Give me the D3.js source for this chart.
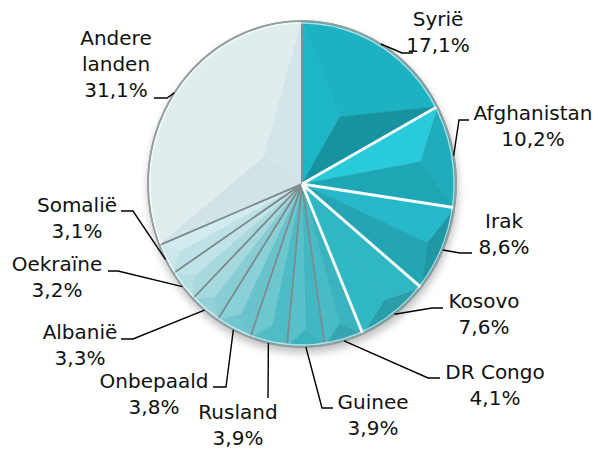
<!DOCTYPE html>
<html><head><meta charset="utf-8">
<script src="https://cdn.jsdelivr.net/npm/d3@7"></script>
<style>body{margin:0;background:#fff}</style>
</head><body><svg id="c" width="600" height="450"></svg>
<script>
// ---- data ----
const categories = ["Syrië","Afghanistan","Irak","Kosovo","DR Congo","Guinee","Rusland","Onbepaald","Albanië","Oekraïne","Somalië","Andere landen"];
const values = [17.1,10.2,8.6,7.6,4.1,3.9,3.9,3.8,3.3,3.2,3.1,31.1];

// ---- styles / layout ----
const colors = ["#1ba9b8","#22b6c5","#24aab9","#2fb2bf","#3db7c3","#4abbc6","#5cc1ca","#78c9d1","#97d3d9","#b3dee3","#c8e6ea","#d8e8eb"];
const whiteSep = [true,true,true,true,false,false,false,false,false,false,false,false];
const labelLayout = [
  {x:438, y:26,  pts:[[402,53],[413,53]]},
  {x:533, y:120, pts:[[459,120],[469,120]]},
  {x:504, y:228, pts:[[460,253],[472,253]]},
  {x:484, y:308, pts:[[432,308],[443,308]]},
  {x:495, y:379, pts:[[428,378],[440,378]]},
  {x:373, y:409, pts:[[322,408],[333,408]]},
  {x:238, y:419, pts:[[268,398]]},
  {x:154, y:388, pts:[[226,387],[213,387]]},
  {x:80,  y:339, pts:[[133,339],[121,339]]},
  {x:57,  y:271, pts:[[118,271],[108,271]]},
  {x:77,  y:212, pts:[[133,211],[121,211]]},
  {x:116, y:45,  pts:[[167,98],[154,98]], wrap:true}
];
const cx = 302, cy = 184, R = 163, RX = 154;
const sx = RX / R;
const lineH = 26;

const svg = d3.select("#c");
const defs = svg.append("defs");
const f = defs.append("filter").attr("id","sh").attr("x","-20%").attr("y","-20%").attr("width","140%").attr("height","140%");
f.append("feGaussianBlur").attr("stdDeviation",4);

const pie = d3.pie().sort(null).value(d => d);
const arcs = pie(values);
const arc = d3.arc().innerRadius(0).outerRadius(R);

// shadow
svg.append("ellipse").attr("cx",cx+1).attr("cy",cy+5).attr("rx",RX+1).attr("ry",R+1)
  .attr("fill","#000").attr("opacity",0.25).attr("filter","url(#sh)");

const g = svg.append("g").attr("transform",`translate(${cx},${cy}) scale(${sx},1)`);

const pt = (r,a) => [r*Math.sin(a), -r*Math.cos(a)];
const L = [-0.6,-0.8];
function shade(base, ang){
  const n = pt(1, ang);
  const dot = n[0]*L[0] + n[1]*L[1];
  const c = d3.hsl(base);
  const k = 0.055 * (1 - Math.max(0, c.l - 0.55) * 1.6);
  c.l = Math.max(0, Math.min(0.95, c.l + k*dot));
  return c.formatHex();
}

arcs.forEach((d,i) => {
  const a0 = d.startAngle, a1 = d.endAngle;
  const th = (a1-a0)/2, mid = (a0+a1)/2;
  const dd = Math.min(40/Math.sin(Math.min(th, Math.PI/2)), R-18);
  const A = pt(R,a0), B = pt(R,a1), P = pt(dd,mid);
  const sg = g.append("g");
  const large = (a1-a0) > Math.PI ? 1 : 0;
  const c1 = shade(colors[i], mid), c2 = shade(colors[i], a0 - Math.PI/2), c3 = shade(colors[i], a1 + Math.PI/2);
  sg.append("path")
    .attr("d",`M${A[0]},${A[1]}A${R},${R} 0 ${large} 1 ${B[0]},${B[1]}L${P[0]},${P[1]}Z`)
    .attr("fill", c1).attr("stroke", c1).attr("stroke-width",0.5);
  sg.append("path")
    .attr("d",`M0,0L${A[0]},${A[1]}L${P[0]},${P[1]}Z`)
    .attr("fill", c2).attr("stroke", c2).attr("stroke-width",0.5);
  sg.append("path")
    .attr("d",`M0,0L${B[0]},${B[1]}L${P[0]},${P[1]}Z`)
    .attr("fill", c3).attr("stroke", c3).attr("stroke-width",0.5);
});

// slice outlines
g.selectAll("path.sl").data(arcs).join("path").attr("class","sl")
  .attr("d",arc).attr("fill","none")
  .attr("stroke","#7f8c8f").attr("stroke-width",1.6).attr("stroke-linejoin","round");
// white separators on the big teal slices
arcs.forEach((d,i) => {
  if (whiteSep[i]) {
    const E = pt(R-1, d.endAngle);
    g.append("line").attr("x1",0).attr("y1",0).attr("x2",E[0]).attr("y2",E[1])
      .attr("stroke","#f4fbfc").attr("stroke-width",3);
  }
});
// rim
g.append("circle").attr("r",R-2).attr("fill","none").attr("stroke","#ffffff").attr("stroke-opacity",0.6).attr("stroke-width",1.5);
g.append("circle").attr("r",R).attr("fill","none").attr("stroke","#969fa1").attr("stroke-width",1.6);

// labels
const fmt = v => d3.format(".1f")(v).replace(".",",") + "%";
const lab = svg.append("g").attr("font-family","'DejaVu Sans', Verdana, sans-serif")
  .attr("font-size",20).attr("fill","#111").attr("text-anchor","middle");
arcs.forEach((d,i) => {
  const lay = labelLayout[i];
  const mid = (d.startAngle+d.endAngle)/2;
  const e = pt(R, mid);
  const start = [cx + e[0]*sx, cy + e[1]];
  svg.append("path").attr("d", d3.line()([start, ...lay.pts]))
    .attr("fill","none").attr("stroke","#000").attr("stroke-width",1.4);
  const lines = lay.wrap ? categories[i].split(" ") : [categories[i]];
  lines.push(fmt(values[i]));
  const t = lab.append("text").attr("x",lay.x).attr("y",lay.y);
  lines.forEach((s,k) => t.append("tspan").attr("x",lay.x).attr("dy", k===0?0:lineH).text(s));
});
</script></body></html>
